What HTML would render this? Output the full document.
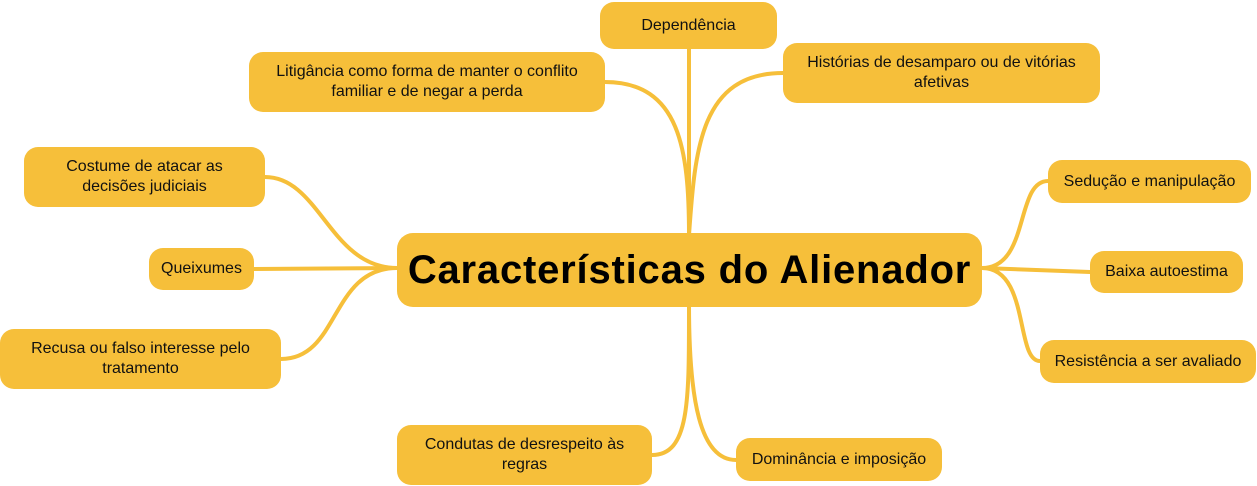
<!DOCTYPE html>
<html><head><meta charset="utf-8"><style>
body{margin:0;width:1257px;height:486px;background:#fff;position:relative;overflow:hidden;font-family:"Liberation Sans",sans-serif}
.n{position:absolute;background:#F6BF3A;border-radius:14px;display:flex;align-items:center;justify-content:center;text-align:center;font-size:16px;line-height:20px;color:#111;white-space:nowrap}
svg{position:absolute;left:0;top:0}
</style></head><body>
<svg width="1257" height="486" fill="none" stroke="#F6BF3A" stroke-width="4" stroke-linecap="round">
<path d="M689 235 L689 49"/>
<path d="M689 235 C689 150 680 82 605 82"/>
<path d="M689 235 C695 150 700 73 783 73"/>
<path d="M397 268 C330 268 320 177 265 177"/>
<path d="M397 268 L254 269"/>
<path d="M397 268 C330 268 340 359 281 359"/>
<path d="M689 305 C689 400 690 455 652 455"/>
<path d="M689 305 C689 400 700 460 736 460"/>
<path d="M982 268 C1030 268 1015 181 1048 181"/>
<path d="M982 268 L1090 272"/>
<path d="M982 268 C1030 268 1015 361 1040 361"/>
</svg>
<div class="n" style="left:397px;top:233px;width:585px;height:74px;border-radius:16px;font-weight:bold;font-size:40px;color:#000;letter-spacing:0.8px">Características do Alienador</div>
<div class="n" style="left:600px;top:2px;width:177px;height:47px">Dependência</div>
<div class="n" style="left:249px;top:52px;width:356px;height:60px">Litigância como forma de manter o conflito<br>familiar e de negar a perda</div>
<div class="n" style="left:783px;top:43px;width:317px;height:60px">Histórias de desamparo ou de vitórias<br>afetivas</div>
<div class="n" style="left:24px;top:147px;width:241px;height:60px">Costume de atacar as<br>decisões judiciais</div>
<div class="n" style="left:149px;top:248px;width:105px;height:42px">Queixumes</div>
<div class="n" style="left:0px;top:329px;width:281px;height:60px">Recusa ou falso interesse pelo<br>tratamento</div>
<div class="n" style="left:1048px;top:160px;width:203px;height:43px">Sedução e manipulação</div>
<div class="n" style="left:1090px;top:251px;width:153px;height:42px">Baixa autoestima</div>
<div class="n" style="left:1040px;top:340px;width:216px;height:43px">Resistência a ser avaliado</div>
<div class="n" style="left:397px;top:425px;width:255px;height:60px">Condutas de desrespeito às<br>regras</div>
<div class="n" style="left:736px;top:438px;width:206px;height:43px">Dominância e imposição</div>
</body></html>
